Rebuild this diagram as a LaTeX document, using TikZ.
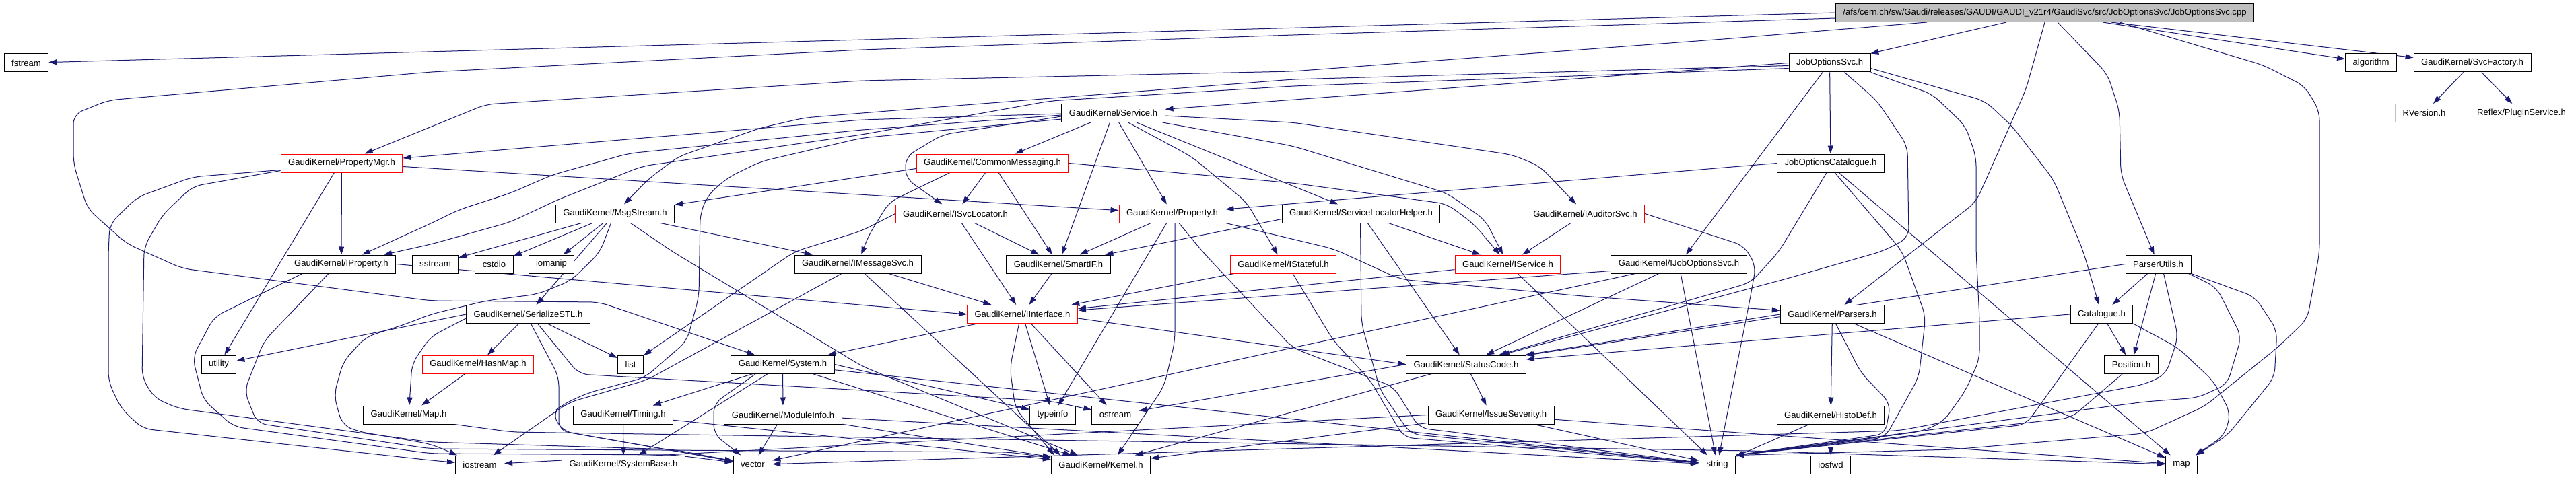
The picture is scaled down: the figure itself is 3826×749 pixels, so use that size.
\documentclass[tikz,border=0pt]{standalone}
\usepackage{fontspec}
\setmainfont{Liberation Sans}
\usetikzlibrary{arrows.meta}
\pgfdeclarelayer{bg}
\pgfsetlayers{bg,main}
\definecolor{edgeblue}{HTML}{191970}
\definecolor{truncred}{HTML}{FF0000}
\definecolor{greyline}{HTML}{BFBFBF}
\definecolor{rootfill}{HTML}{BFBFBF}
\begin{document}
\begin{tikzpicture}[x=1pt,y=-1pt,
  nd/.style={draw=black,line width=1pt,fill=white,minimum height=27pt,inner xsep=11pt,inner ysep=0pt,font=\fontsize{13.1}{15}\selectfont,text=black},
  rednd/.style={nd,draw=truncred},
  greynd/.style={nd,draw=greyline},
  rootnd/.style={nd,fill=rootfill},
  ln/.style={draw=edgeblue,line width=1pt,-{Triangle[length=12pt,width=8pt]}},
  rd/.style={rounded corners=14pt}]
\useasboundingbox (0,0) rectangle (3826,749);
% ---------------- nodes ----------------
\node[rootnd] (root) at (3037,19) {/afs/cern.ch/sw/Gaudi/releases/GAUDI/GAUDI\_v21r4/GaudiSvc/src/JobOptionsSvc/JobOptionsSvc.cpp};
\node[nd] (fst) at (39,93.5) {fstream};
\node[nd] (jos) at (2717.5,93.5) {JobOptionsSvc.h};
\node[nd] (alg) at (3521.5,93.5) {algorithm};
\node[nd] (sf) at (3672,93.5) {GaudiKernel/SvcFactory.h};
\node[nd] (sv) at (1653.5,168) {GaudiKernel/Service.h};
\node[greynd] (rv) at (3600.5,168) {RVersion.h};
\node[greynd] (plg) at (3745,168) {Reflex/PluginService.h};
\node[rednd] (pm) at (507.5,242.5) {GaudiKernel/PropertyMgr.h};
\node[rednd] (cm) at (1474,242.5) {GaudiKernel/CommonMessaging.h};
\node[nd] (joc) at (2719,242.5) {JobOptionsCatalogue.h};
\node[nd] (ms) at (913.5,317.5) {GaudiKernel/MsgStream.h};
\node[rednd] (sl) at (1419,317.5) {GaudiKernel/ISvcLocator.h};
\node[rednd] (pr) at (1741,317.5) {GaudiKernel/Property.h};
\node[nd] (slh) at (2021.5,317.5) {GaudiKernel/ServiceLocatorHelper.h};
\node[rednd] (au) at (2354.5,317.5) {GaudiKernel/IAuditorSvc.h};
\node[nd] (ip) at (507,392.5) {GaudiKernel/IProperty.h};
\node[nd] (sst) at (646.5,392.5) {sstream};
\node[nd] (cst) at (734,392.5) {cstdio};
\node[nd] (iom) at (819,392.5) {iomanip};
\node[nd] (im) at (1274,392.5) {GaudiKernel/IMessageSvc.h};
\node[nd] (si) at (1572,392.5) {GaudiKernel/SmartIF.h};
\node[rednd] (st) at (1906,392.5) {GaudiKernel/IStateful.h};
\node[rednd] (is) at (2239.5,392.5) {GaudiKernel/IService.h};
\node[nd] (ijo) at (2493.5,392.5) {GaudiKernel/IJobOptionsSvc.h};
\node[nd] (pu) at (3205.5,392.5) {ParserUtils.h};
\node[nd] (ss) at (784.5,467) {GaudiKernel/SerializeSTL.h};
\node[rednd] (ii) at (1518.5,467) {GaudiKernel/IInterface.h};
\node[nd] (ps) at (2721.5,467) {GaudiKernel/Parsers.h};
\node[nd] (ca) at (3121.5,467) {Catalogue.h};
\node[nd] (ut) at (325,541.5) {utility};
\node[rednd] (hm) at (710,541.5) {GaudiKernel/HashMap.h};
\node[nd] (li) at (936.5,541.5) {list};
\node[nd] (sy) at (1162.5,541.5) {GaudiKernel/System.h};
\node[nd] (sc) at (2177.5,541.5) {GaudiKernel/StatusCode.h};
\node[nd] (po) at (3165.5,541.5) {Position.h};
\node[nd] (mpg) at (607,616.5) {GaudiKernel/Map.h};
\node[nd] (tm) at (925.5,616.5) {GaudiKernel/Timing.h};
\node[nd] (mi) at (1163,616.5) {GaudiKernel/ModuleInfo.h};
\node[nd] (ti) at (1563.5,616.5) {typeinfo};
\node[nd] (os) at (1656.5,616.5) {ostream};
\node[nd] (isv) at (2214.5,616.5) {GaudiKernel/IssueSeverity.h};
\node[nd] (hd) at (2719,616.5) {GaudiKernel/HistoDef.h};
\node[nd] (io) at (712.5,690.5) {iostream};
\node[nd] (sb) at (926,690.5) {GaudiKernel/SystemBase.h};
\node[nd] (vec) at (1118,690.5) {vector};
\node[nd] (kn) at (1635,690.5) {GaudiKernel/Kernel.h};
\node[nd] (str) at (2550.5,690.5) {string};
\node[nd] (iof) at (2719,690.5) {iosfwd};
\node[nd] (mp) at (3240,690.5) {map};
% ---------------- edges ----------------
\begin{pgfonlayer}{bg}
\fill[white] (0,0) rectangle (3826,749);
% root
\draw[ln] (root.west) -- (fst);
\draw[ln,rd] ([yshift=-8pt]root.west) -- (1920,52) -- (1280,74) -- (640,107) -- (161,149) -- (109,170) -- (109,243) -- (130,310) -- (188,362) -- (271,399) -- (640,447) -- (890,449) -- (sy);
\draw[ln,rd] ([xshift=-175pt]root.south) -- (2560,58) -- (1920,106) -- (1280,120) -- (722,155) -- (pm);
\draw[ln] ([xshift=-57pt]root.south) -- (jos);
\draw[ln,rd] (root.south) -- (3009,133) -- (2935,300) -- (ps);
\draw[ln,rd] ([xshift=19pt]root.south) -- (3130,110) -- (3148,165) -- (3150,260) -- (pu);
\draw[ln] ([xshift=86pt]root.south) -- (alg);
\draw[ln] ([xshift=98pt]root.south) -- ([yshift=8pt]sf.west);
\draw[ln,rd] ([xshift=111pt]root.south) -- (3362,97) -- (3423,128) -- (3445,165) -- (3445,375) -- (3427,474) -- (3382,517) -- (3274,604) -- (3186,644) -- (2900,668) -- (str.north east);
% JobOptionsSvc.h
\draw[ln] (jos.west) -- (sv);
\draw[ln,rd] ([yshift=-4pt]jos.west) -- (1920,118) -- (1280,168) -- (1195,175) -- (1130,190) -- (1081,207) -- (1007,233) -- (962,267) -- (ms);
\draw[ln,rd] ([yshift=-8pt]jos.west) -- (1920,128) -- (1560,150) -- (1280,200) -- (954,247) -- (828,297) -- (758,330) -- (640,363) -- (ip);
\draw[ln] (jos) -- (joc);
\draw[ln] (jos) -- (ijo);
\draw[ln,rd] ([xshift=22pt]jos.south) -- (2788,150) -- (2833,217) -- (2835,353) -- (2797,373) -- (2654,414) -- (sc);
\draw[ln,rd] (jos.south east) -- (2870,140) -- (2919,187) -- (2935,233) -- (2935,374) -- (2940,474) -- (2940,534) -- (2919,581) -- (2886,627) -- (2854,641) -- (2780,651) -- (str.north east);
\draw[ln,rd] ([yshift=-8pt]jos.east) -- (2948,150) -- (2988,187) -- (3050,267) -- (3094,373) -- (ca);
% JobOptionsCatalogue.h
\draw[ln] (joc.west) -- (pr);
\draw[ln,rd] ([xshift=-6pt]joc.south) -- (2642,374) -- (2600,420) -- (sc);
\draw[ln,rd] ([xshift=6pt]joc.south) -- (2825,373) -- (2860,470) -- (2850,560) -- (2800,650) -- (str.north east);
\draw[ln] ([xshift=12pt]joc.south) -- (mp);
% SvcFactory
\draw[ln] (sf) -- (rv);
\draw[ln] (sf) -- (plg);
% Service.h
\draw[ln] (sv) -- (cm);
\draw[ln,rd] ([yshift=-5pt]sv.west) -- (1400,200) -- (1345,233) -- (1345,265) -- (sl);
\draw[ln] (sv) -- (si);
\draw[ln] (sv) -- (pr);
\draw[ln,rd] ([xshift=22pt]sv.south) -- (1770,233) -- (1851,300) -- (st);
\draw[ln] (sv) -- (slh);
\draw[ln,rd] ([xshift=-4pt]sv.south east) -- (1920,217) -- (2149,287) -- (2206,327) -- (is);
\draw[ln,rd] ([yshift=-4pt]sv.east) -- (1920,182) -- (2246,230) -- (2287,247) -- (au);
\draw[ln,rd] ([yshift=-1pt]sv.west) -- (1280,178) -- (pm);
\draw[ln,rd] ([yshift=-3pt]sv.west) -- (1280,193) -- (934,228) -- (820,260) -- (758,287) -- (681,312) -- (640,332) -- (ip);
\draw[ln,rd] ([yshift=-9pt]sv.west) -- (1280,205) -- (1130,240) -- (1081,264) -- (1052,289) -- (1040,317) -- (1038,441) -- (1020,507) -- (958,561) -- (873,584) -- (836,601) -- (820,614) -- (836,641) -- (vec);
% CommonMessaging.h
\draw[ln] ([yshift=-8pt]cm.west) -- (ms);
\draw[ln,rd] ([xshift=-63pt]cm.south) -- (1321,300) -- (1290,350) -- (im);
\draw[ln] (cm) -- (sl);
\draw[ln] (cm) -- (si);
\draw[ln,rd] (cm.east) -- (1920,272) -- (2149,303) -- (2189,333) -- (is);
% PropertyMgr.h
\draw[ln] (pm) -- (ip);
\draw[ln] ([yshift=-5pt]pm.east) -- (pr);
\draw[ln] ([xshift=-11pt]pm.south) -- (ut);
\draw[ln,rd] ([yshift=-10pt]pm.west) -- (286,263) -- (204,293) -- (163,333) -- (161,375) -- (161,567) -- (180,607) -- (212,637) -- (640,684) -- (io);
\draw[ln,rd] ([yshift=-11pt]pm.west) -- (286,277) -- (241,320) -- (214,367) -- (211,561) -- (229,591) -- (265,607) -- (640,657) -- (1000,668) -- (vec);
% MsgStream.h
\draw[ln] (ms) -- (sst);
\draw[ln] (ms) -- (cst);
\draw[ln] (ms) -- (iom);
\draw[ln] (ms) -- (ss);
\draw[ln] (ms) -- (im);
\draw[ln,rd] ([xshift=23pt]ms.south) -- (999,374) -- (1280,544) -- (kn);
\draw[ln,rd] ([xshift=-6pt]ms.south) -- (891,375) -- (848,417) -- (799,437) -- (722,447) -- (640,467) -- (604,481) -- (543,501) -- (510,537) -- (496,587) -- (508,631) -- (531,641) -- (640,660) -- (io);
% ISvcLocator.h
\draw[ln,rd] (sl.west) -- (1280,343) -- (1180,374) -- (li);
\draw[ln] (sl) -- (ii);
\draw[ln] (sl) -- (si);
% Property.h
\draw[ln] (pr) -- (si);
\draw[ln] (pr) -- (ti);
\draw[ln,rd] ([xshift=4pt]pr.south) -- (1745,507) -- (1729,574) -- ([xshift=25pt]kn.north);
\draw[ln,rd] ([xshift=10pt]pr.south) -- (1786,374) -- (1920,517) -- (2070,575) -- (2108,636) -- (str);
\draw[ln,rd] (pr.south east) -- (1981,370) -- (2080,415) -- (2350,440) -- (ps);
% ServiceLocatorHelper.h
\draw[ln] (slh) -- (is);
\draw[ln] (slh) -- (sc);
\draw[ln] ([yshift=-8pt]slh.west) -- (si);
\draw[ln,rd] ([xshift=-1pt]slh.south) -- (2022,480) -- (2050,580) -- (2095,645) -- (str);
% IAuditorSvc.h
\draw[ln] (au) -- (is);
\draw[ln,rd] (au.east) -- (2590,365) -- (2608,395) -- (2600,440) -- (str);
% IProperty.h
\draw[ln] (ip.east) -- (ii.west);
\draw[ln,rd] ([xshift=-58pt]ip.south) -- (318,471) -- (286,531) -- (302,594) -- (347,634) -- (640,674) -- (1000,676) -- (vec);
\draw[ln,rd] ([xshift=-19pt]ip.south) -- (392,507) -- (363,581) -- (382,629) -- (640,667) -- (1500,672) -- (kn);
% IMessageSvc.h
\draw[ln] (im) -- (ii);
\draw[ln,rd] ([xshift=-24pt]im.south) -- (960,565) -- (845,598) -- (io);
\draw[ln] ([xshift=10pt]im.south) -- ([xshift=-60pt]kn.north);
% SmartIF, IStateful, IService, IJobOptionsSvc
\draw[ln] (si) -- (ii);
\draw[ln] (st) -- (ii);
\draw[ln,rd] ([xshift=14pt]st.south) -- (1981,507) -- (2035,565) -- (2085,650) -- (str);
\draw[ln] (is) -- (str);
\draw[ln] (is) -- (ii);
\draw[ln] ([yshift=-10pt]ijo.west) -- (ii);
\draw[ln] (ijo) -- (sc);
\draw[ln] (ijo) -- (str);
\draw[ln] (ijo) -- (vec);
% ParserUtils.h
\draw[ln] (pu) -- (ca);
\draw[ln] (pu) -- (po);
\draw[ln] (pu.west) -- (sc);
\draw[ln,rd] ([xshift=45pt]pu.south) -- (3292,427) -- (3329,500) -- (3308,571) -- (3264,591) -- (3186,597) -- (str.north east);
\draw[ln,rd] (pu.south east) -- (3349,441) -- (3382,491) -- (3378,561) -- (3308,647) -- (mp);
\draw[ln,rd] ([xshift=8pt]pu.south) -- (3235,501) -- (3217,556) -- (3186,571) -- (2820,640) -- (vec);
% Parsers.h
\draw[ln] (ps.west) -- (sc);
\draw[ln] (ps) -- (hd);
\draw[ln,rd] ([xshift=5pt]ps.south) -- (2764,554) -- (2808,600) -- (2800,645) -- (str.north east);
\draw[ln] (ps) -- (mp);
% Catalogue.h, Position.h
\draw[ln] (ca) -- (po);
\draw[ln] (ca.west) -- (sc);
\draw[ln,rd] ([xshift=-5pt]ca.south) -- (3009,631) -- (str.north east);
\draw[ln,rd] (ca.south east) -- (3235,517) -- (3288,567) -- (3313,614) -- (3304,647) -- (mp);
\draw[ln,rd] ([xshift=-13pt]po.south) -- (3076,621) -- (str.north east);
% SerializeSTL.h
\draw[ln] (ss.west) -- (ut);
\draw[ln] (ss) -- (hm);
\draw[ln] (ss) -- (li);
\draw[ln,rd] ([yshift=-6pt]ss.west) -- (640,500) -- (612,540) -- (mpg);
\draw[ln,rd] ([xshift=14pt]ss.south) -- (860,556) -- (1560,596) -- (os);
\draw[ln,rd] ([xshift=4pt]ss.south) -- (830,560) -- (830,640) -- (vec);
% HashMap, Map
\draw[ln] (hm) -- (mpg);
\draw[ln,rd] (mpg.south east) -- (760,642) -- (2600,670) -- (mp);
% System.h
\draw[ln] (sy) -- (tm);
\draw[ln] (sy) -- (mi);
\draw[ln] (sy) -- (sb);
\draw[ln] (sy.east) -- (ti);
\draw[ln] (sy) -- (str);
\draw[ln] (sy) -- (kn);
\draw[ln,rd] ([xshift=-40pt]sy.south) -- (1060,600) -- (1060,645) -- (vec);
% Timing, ModuleInfo
\draw[ln] (tm) -- (sb);
\draw[ln] (tm) -- (kn);
\draw[ln] (mi) -- (vec);
\draw[ln] (mi) -- (kn);
\draw[ln] (mi) -- (str);
% StatusCode, IssueSeverity, HistoDef
\draw[ln] (sc) -- (isv);
\draw[ln] (sc.west) -- (os);
\draw[ln] (sc) -- (kn);
\draw[ln] (isv) -- (str);
\draw[ln] (isv) -- (mp);
\draw[ln] (isv) -- (kn);
\draw[ln] (isv.west) -- (io);
\draw[ln] (hd) -- (iof);
\draw[ln] (hd) -- (str);
% IInterface.h
\draw[ln] (ii) -- (sy);
\draw[ln,rd] ([xshift=-5pt]ii.south) -- (1500,547) -- (1508,607) -- ([xshift=-69pt]kn.north);
\draw[ln] (ii) -- (ti);
\draw[ln] (ii) -- (os);
\draw[ln] ([yshift=-6pt]ii.east) -- (sc.west);
\end{pgfonlayer}
\end{tikzpicture}
\end{document}
